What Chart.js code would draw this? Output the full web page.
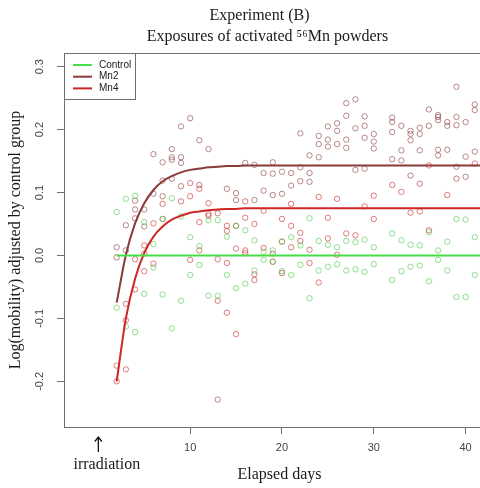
<!DOCTYPE html>
<html>
<head>
<meta charset="utf-8">
<script src="https://cdn.jsdelivr.net/npm/chart.js@4.4.0/dist/chart.umd.min.js"></script>
<style>
  html, body { margin: 0; padding: 0; background: #fff; overflow: hidden; }
  #wrap { width: 480px; height: 488px; overflow: hidden; }
</style>
</head>
<body>
<div id="wrap"><canvas id="myChart" width="500" height="488"></canvas></div>
<script>
// days on which the groups were measured (no day 31)
const obsDays = [2, 3, 4, 5, 6, 7, 8, 9, 10, 11, 12, 13, 14, 15, 16, 17, 18, 19, 20, 21,
  22, 23, 24, 25, 26, 27, 28, 29, 30, 32, 33, 34, 35, 36, 37, 38, 39, 40, 41];

// observed values per day, same order as obsDays
const controlObs = [
  [0.069, -0.083], [0.090, -0.113], [0.095, -0.122], [0.053, -0.061], [0.018, -0.019],
  [0.058, -0.062], [0.091, -0.116], [0.062, -0.072], [0.029, -0.031], [0.015, -0.015],
  [0.056, -0.064], [0.056, -0.064], [0.030, -0.031], [0.047, -0.052], [0.040, -0.045],
  [0.024, -0.024], [0.006, -0.007], [0.008, -0.010], [0.022, -0.025], [0.029, -0.031],
  [0.016, -0.015], [0.059, -0.068], [0.023, -0.024], [0.017, -0.018], [0.013, -0.014],
  [0.023, -0.024], [0.021, -0.022], [0.025, -0.026], [0.013, -0.014], [0.035, -0.039],
  [0.024, -0.025], [0.017, -0.018], [0.016, -0.016], [0.037, -0.041], [0.008, -0.007],
  [0.022, -0.024], [0.058, -0.066], [0.057, -0.066], [0.029, -0.031]
];
const mn2Obs = [
  [0.013, -0.003], [0.048, 0.008], [0.087, 0.073, 0.059], [0.073, 0.046], [0.161, 0.098],
  [0.148, 0.119, 0.094], [0.169, 0.156, 0.152, 0.122], [0.205, 0.156, 0.147, 0.110], [0.218],
  [0.183, 0.112], [0.169], [-0.229], [0.106], [0.099, 0.088], [0.147], [0.144, 0.088],
  [0.131, 0.103], [0.148, 0.130, 0.096], [0.133, 0.098], [0.131, 0.111], [0.194, 0.140, 0.118],
  [0.159, 0.131, 0.117], [0.190, 0.177, 0.156], [0.205, 0.184, 0.173], [0.210, 0.198, 0.177],
  [0.242, 0.222, 0.184, 0.171], [0.248, 0.202, 0.136], [0.221, 0.206, 0.187, 0.138],
  [0.193, 0.181, 0.170], [0.219, 0.212, 0.196, 0.153], [0.206, 0.167, 0.151],
  [0.198, 0.193, 0.183, 0.127], [0.203, 0.193, 0.167, 0.114], [0.232, 0.206],
  [0.223, 0.220, 0.215, 0.168, 0.159], [0.212, 0.206, 0.168], [0.268, 0.220, 0.207, 0.141, 0.122],
  [0.212, 0.157, 0.125], [0.240, 0.231, 0.165]
];
const mn4Obs = [
  [-0.175, -0.200], [-0.077, -0.103, -0.181], [-0.006, -0.054], [0.016, 0.003, -0.025],
  [0.051, -0.013], [0.082, 0.058], [], [0.086], [0.115, 0.094, -0.007], [0.106, 0.053, 0.008],
  [0.083, 0.066, 0.063], [0.067, -0.006, -0.072], [0.047, 0.039, -0.012, -0.091],
  [0.047, 0.011, -0.125], [0.086, 0.060, 0.008, 0.004], [0.050, -0.030, -0.039], [0.071, 0.012],
  [0.003, -0.010], [0.058, 0.022, -0.028], [0.082, 0.047, 0.013], [0.036, 0.023], [0.009, -0.012],
  [0.093, -0.043], [0.060, 0.027], [0.090, 0.001], [0.035], [0.032], [0.078], [0.095, 0.058],
  [0.112], [0.101], [0.068], [0.070], [0.143, 0.040], [], [0.096], [], [], [0.146]
];

// fitted curves
const curveDays = [2, 3, 4, 5, 6, 7, 8, 9, 10, 11, 12, 13, 14, 15, 16, 18, 20, 25, 30, 35, 40, 43];
const mn2Curve = [-0.075, 0.001, 0.051, 0.083, 0.104, 0.118, 0.126, 0.132, 0.136, 0.138, 0.140,
  0.141, 0.142, 0.142, 0.143, 0.143, 0.143, 0.143, 0.143, 0.143, 0.143, 0.143];
const mn4Curve = [-0.200, -0.100, -0.037, 0.004, 0.030, 0.046, 0.057, 0.063, 0.068, 0.070, 0.072,
  0.073, 0.074, 0.074, 0.075, 0.075, 0.075, 0.075, 0.075, 0.075, 0.075, 0.075];
const controlLineDays = [2, 43];
const controlLine = [0, 0];

const xTickValues = [10, 20, 30, 40];
const yTickValues = [-0.2, -0.1, 0.0, 0.1, 0.2, 0.3];
const seriesNames = ["Control", "Mn2", "Mn4"];

const serif = "'Liberation Serif', 'Times New Roman', serif";
const sans = "'Liberation Sans', Arial, sans-serif";
const lineColors = ["rgb(70,222,70)", "#8b3a3a", "#cd2626"];
const pointColors = ["rgba(70,200,70,0.6)", "rgba(139,58,58,0.6)", "rgba(205,38,38,0.6)"];

function toPoints(obs) {
  const pts = [];
  for (let i = 0; i < obsDays.length; i++) {
    obs[i].forEach((v) => pts.push({ x: obsDays[i], y: v }));
  }
  return pts;
}
function toLine(days, vals) {
  return days.map((d, i) => ({ x: d, y: vals[i] }));
}

function scatterSet(label, obs, i) {
  return {
    label: label,
    data: toPoints(obs),
    pointStyle: "circle",
    pointRadius: 2.7,
    pointBorderWidth: 1,
    pointBackgroundColor: "rgba(0,0,0,0)",
    pointBorderColor: pointColors[i],
    showLine: false,
    order: 2,
  };
}
function lineSet(label, days, vals, i) {
  return {
    label: label,
    data: toLine(days, vals),
    showLine: true,
    borderColor: lineColors[i],
    borderWidth: 2,
    pointRadius: 0,
    cubicInterpolationMode: "monotone",
    order: 1,
  };
}

// box, titles, legend and the irradiation marker
const decorations = {
  id: "decorations",
  afterDatasetsDraw(chart) {
    const { ctx, chartArea: a } = chart;
    ctx.save();
    ctx.strokeStyle = "#6f6f6f";
    ctx.lineWidth = 1;
    ctx.strokeRect(a.left + 0.5, a.top + 0.5, a.right - a.left, a.bottom - a.top);
    ctx.restore();
  },
  afterDraw(chart) {
    const { ctx, chartArea: a } = chart;
    ctx.save();
    // titles
    ctx.fillStyle = "#1a1a1a";
    ctx.font = "16px " + serif;
    ctx.textAlign = "center";
    ctx.textBaseline = "alphabetic";
    ctx.fillText("Experiment (B)", 259.5, 19.5);
    ctx.fillText("Exposures of activated \u2075\u2076Mn powders", 267.5, 41);

    // legend
    const lx = a.left, ly = a.top;
    ctx.fillStyle = "#fff";
    ctx.fillRect(lx, ly, 71, 46);
    ctx.strokeStyle = "#6f6f6f";
    ctx.lineWidth = 1;
    ctx.strokeRect(lx + 0.5, ly + 0.5, 71, 46);
    ctx.font = "10px " + sans;
    ctx.textAlign = "left";
    ctx.textBaseline = "middle";
    seriesNames.forEach((name, i) => {
      const y = ly + 12 + i * 11.7;
      ctx.strokeStyle = lineColors[i];
      ctx.lineWidth = 2;
      ctx.beginPath();
      ctx.moveTo(lx + 9, y);
      ctx.lineTo(lx + 28, y);
      ctx.stroke();
      ctx.fillStyle = "#222";
      ctx.fillText(name, lx + 35, y);
    });

    // irradiation arrow at day 0
    const x0 = chart.scales.x.getPixelForValue(0);
    ctx.strokeStyle = "#111";
    ctx.lineWidth = 1.3;
    ctx.beginPath();
    ctx.moveTo(x0, 452);
    ctx.lineTo(x0, 437.5);
    ctx.moveTo(x0 - 3.5, 441.5);
    ctx.lineTo(x0, 437);
    ctx.lineTo(x0 + 3.5, 441.5);
    ctx.stroke();
    ctx.fillStyle = "#1a1a1a";
    ctx.font = "16px " + serif;
    ctx.textAlign = "center";
    ctx.textBaseline = "alphabetic";
    ctx.fillText("irradiation", x0 + 8.5, 469);
    ctx.restore();
  },
};

const myChart = new Chart("myChart", {
  type: "scatter",
  data: {
    datasets: [
      scatterSet("Control", controlObs, 0),
      scatterSet("Mn2", mn2Obs, 1),
      scatterSet("Mn4", mn4Obs, 2),
      lineSet("Control fit", controlLineDays, controlLine, 0),
      lineSet("Mn2 fit", curveDays, mn2Curve, 1),
      lineSet("Mn4 fit", curveDays, mn4Curve, 2),
    ],
  },
  options: {
    responsive: false,
    animation: false,
    layout: { padding: { top: 53, right: 2, left: 0, bottom: 0 } },
    plugins: {
      legend: { display: false },
      tooltip: { enabled: false },
      title: { display: false },
    },
    scales: {
      x: {
        type: "linear",
        min: -3.74,
        max: 43.2,
        afterBuildTicks: (s) => { s.ticks = xTickValues.map((v) => ({ value: v })); },
        afterFit: (s) => { s.height = 61; },
        grid: { drawOnChartArea: false, drawTicks: true, tickLength: 7, color: "#6f6f6f" },
        border: { display: false },
        ticks: { autoSkip: false, maxRotation: 0, padding: 7, color: "#444",
          font: { family: sans, size: 11 } },
        title: { display: true, text: "Elapsed days", color: "#1a1a1a",
          font: { family: serif, size: 16 }, padding: { top: 0, bottom: 4 } },
      },
      y: {
        type: "linear",
        min: -0.2726,
        max: 0.3217,
        afterBuildTicks: (s) => { s.ticks = yTickValues.map((v) => ({ value: v })); },
        afterFit: (s) => { s.width = 64; },
        grid: { drawOnChartArea: false, drawTicks: true, tickLength: 7, color: "#6f6f6f" },
        border: { display: false },
        ticks: { autoSkip: false, minRotation: 90, maxRotation: 90, crossAlign: "center",
          padding: 8, color: "#444", font: { family: sans, size: 11 },
          callback: (v) => v.toFixed(1) },
        title: { display: true, text: "Log(mobility) adjusted by control group", color: "#1a1a1a",
          font: { family: serif, size: 16 }, padding: { top: 6, bottom: 0 } },
      },
    },
  },
  plugins: [decorations],
});
</script>
</body>
</html>
